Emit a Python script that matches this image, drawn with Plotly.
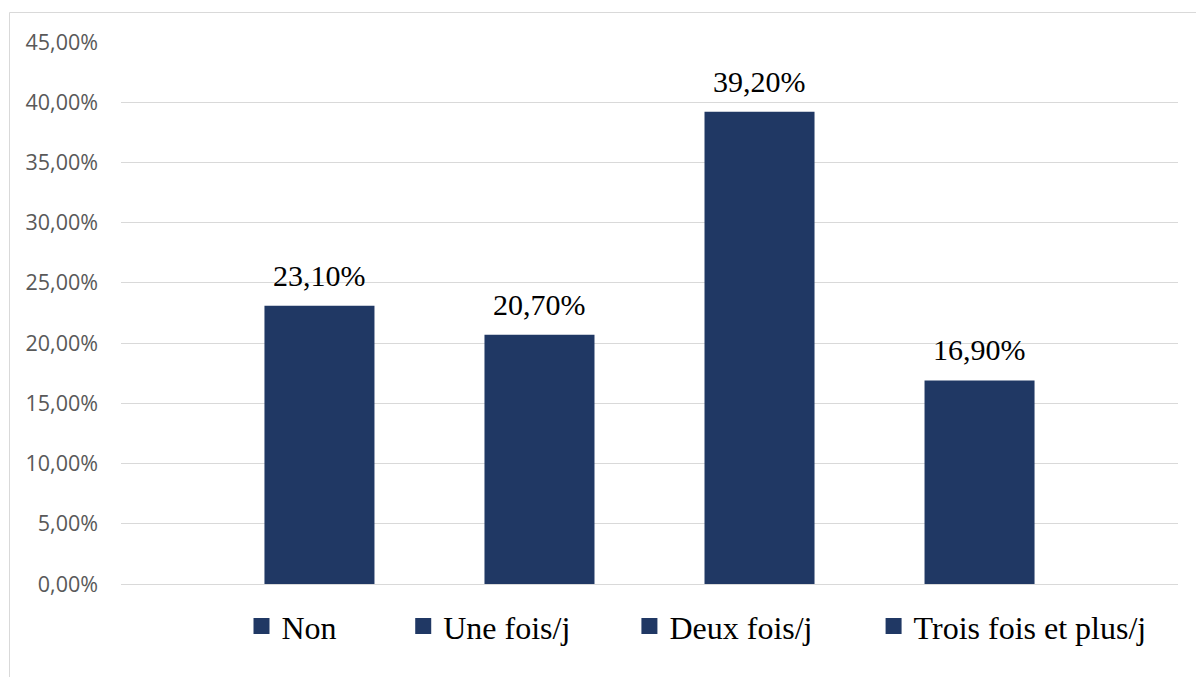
import plotly.graph_objects as go

# Fréquence déclarée (share of respondents per category)
categories = ["Non", "Une fois/j", "Deux fois/j", "Trois fois et plus/j"]
values = [0.231, 0.207, 0.392, 0.169]
y_ticks = [0.0, 0.05, 0.10, 0.15, 0.20, 0.25, 0.30, 0.35, 0.40, 0.45]

BAR_COLOR = "#203864"
GRID_COLOR = "#d9d9d9"
SERIF = "Liberation Serif, Times New Roman, serif"

# left edges (paper units) of the four legend entries along the bottom
legend_x = [0.114, 0.267, 0.481, 0.712]

fig = go.Figure()

for i, (cat, val) in enumerate(zip(categories, values)):
    legend_id = "legend" if i == 0 else f"legend{i + 1}"
    fig.add_bar(
        x=[cat], y=[val], name=cat, width=0.5,
        marker=dict(color=BAR_COLOR, line=dict(width=0)),
        showlegend=False,
    )
    # legend swatch for the series
    fig.add_scatter(
        x=[None], y=[None], mode="markers", name=cat,
        marker=dict(symbol="square", size=16, color=BAR_COLOR),
        legend=legend_id, showlegend=True,
    )
    # value label above the bar
    fig.add_annotation(
        x=cat, y=val, text=f"{val * 100:.2f}%".replace(".", ","),
        showarrow=False, yanchor="bottom", yshift=12,
        font=dict(family=SERIF, size=30, color="black"),
    )

legend_style = dict(
    orientation="h", xanchor="left", y=-0.078, yanchor="middle",
    font=dict(family=SERIF, size=32, color="black"),
    bgcolor="rgba(0,0,0,0)", borderwidth=0,
)
legends = {}
for i, lx in enumerate(legend_x):
    key = "legend" if i == 0 else f"legend{i + 1}"
    legends[key] = dict(legend_style, x=lx)

# light frame around the chart
fig.add_shape(
    type="rect", xref="paper", yref="paper",
    x0=-0.1055, x1=1.03, y0=-0.2, y1=1.0544,
    line=dict(color=GRID_COLOR, width=1), fillcolor="rgba(0,0,0,0)",
    layer="below",
)

fig.update_layout(
    width=1196, height=677,
    margin=dict(l=121, r=18, t=42, b=93),
    paper_bgcolor="white", plot_bgcolor="white",
    barmode="overlay",
    separators=", ",
    xaxis=dict(
        range=[-0.902, 3.902], showticklabels=False, showgrid=False,
        zeroline=False, showline=False, ticks="",
    ),
    yaxis=dict(
        range=[0, 0.45], tickvals=y_ticks, tickformat=".2%",
        showgrid=True, gridcolor=GRID_COLOR, gridwidth=1,
        zeroline=True, zerolinecolor=GRID_COLOR, zerolinewidth=1,
        showline=False, ticks="", ticklabelstandoff=22,
        tickfont=dict(family="Open Sans", size=21.5, color="#595959"),
    ),
    **legends,
)

fig.write_html("out.html")
